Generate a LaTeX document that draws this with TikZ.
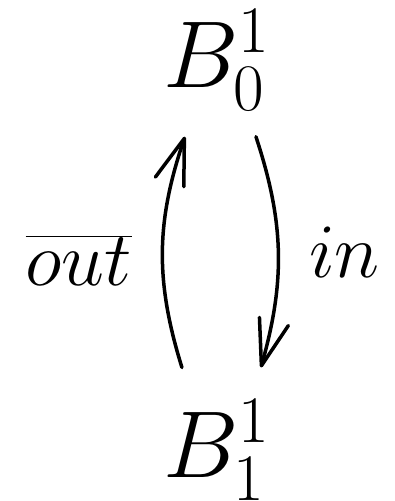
\RequirePackage{fix-cm}
\documentclass[tikz,border=0pt]{standalone}
\usetikzlibrary{arrows.meta,calc}
\tikzset{
  lbl/.style={inner sep=0pt, anchor=base west, font=\fontsize{95}{110}\selectfont},
  edgelbl/.style={inner sep=0pt, anchor=base west, font=\fontsize{77}{90}\selectfont},
  arr/.style={line width=3.5pt, line cap=round, -{Straight Barb[length=46pt,width=30pt,round]}}
}
\begin{document}
\begin{tikzpicture}[x=1pt,y=-1pt]
\useasboundingbox (0,0) rectangle (395,501);
\node[lbl] (b0) at (163,87) {$B_0^1$};
\node[lbl] (b1) at (163,477) {$B_1^1$};
\node[edgelbl] (out) at (25.5,285) {$\overline{out}$};
\node[edgelbl] (in) at (309,277) {$in$};
\draw[arr] ($(b1.north)+(-34.5,-32)$) to[bend left=18] ($(b0.south)+(-31.5,26)$);
\draw[arr] ($(b0.south)+(39.5,26)$) to[bend left=17] ($(b1.north)+(44.5,-32)$);
\end{tikzpicture}
\end{document}
